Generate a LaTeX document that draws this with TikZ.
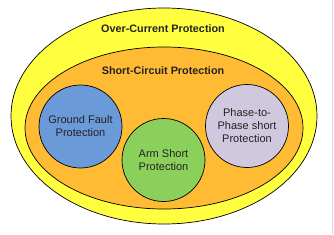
\documentclass[tikz,border=0pt]{standalone}
\usepackage{fontspec}
\setmainfont{Liberation Sans}
\definecolor{cyellow}{HTML}{FFFF40}
\definecolor{corange}{HTML}{FFBB33}
\definecolor{cblue}{HTML}{6A9AD8}
\definecolor{cgreen}{HTML}{8CD05C}
\definecolor{cpurple}{HTML}{D0C8DE}
\definecolor{ctext}{HTML}{222222}
\begin{document}
\begin{tikzpicture}[x=1pt,y=1pt,
  region/.style={draw=black,line width=0.7pt},
  title/.style={font=\bfseries\fontsize{10.8}{13}\selectfont,text=ctext},
  sub/.style={circle,draw=black,line width=0.7pt,minimum size=83pt,inner sep=0pt,align=center,
    font=\fontsize{11}{13}\selectfont,text=ctext}]
\useasboundingbox (0,0) rectangle (334,234);
\fill[white] (0,0) rectangle (334,234);
\draw[black!15] (332.5,0) -- (332.5,234);
\draw[region,fill=cyellow] (164,118) ellipse [x radius=153,y radius=108];
\draw[region,fill=corange] (164,106) ellipse [x radius=139,y radius=81];
\node[title] (oc) at (163,205) {Over-Current Protection};
\node[title] (sc) at (163,163) {Short-Circuit Protection};
\node[sub,fill=cblue] (gf) at (80.5,107.5) {Ground Fault\\Protection};
\node[sub,fill=cgreen] (arm) at (163.5,74) {Arm Short\\Protection};
\node[sub,fill=cpurple] (pp) at (247,108) {Phase-to-\\Phase short\\Protection};
\end{tikzpicture}
\end{document}
